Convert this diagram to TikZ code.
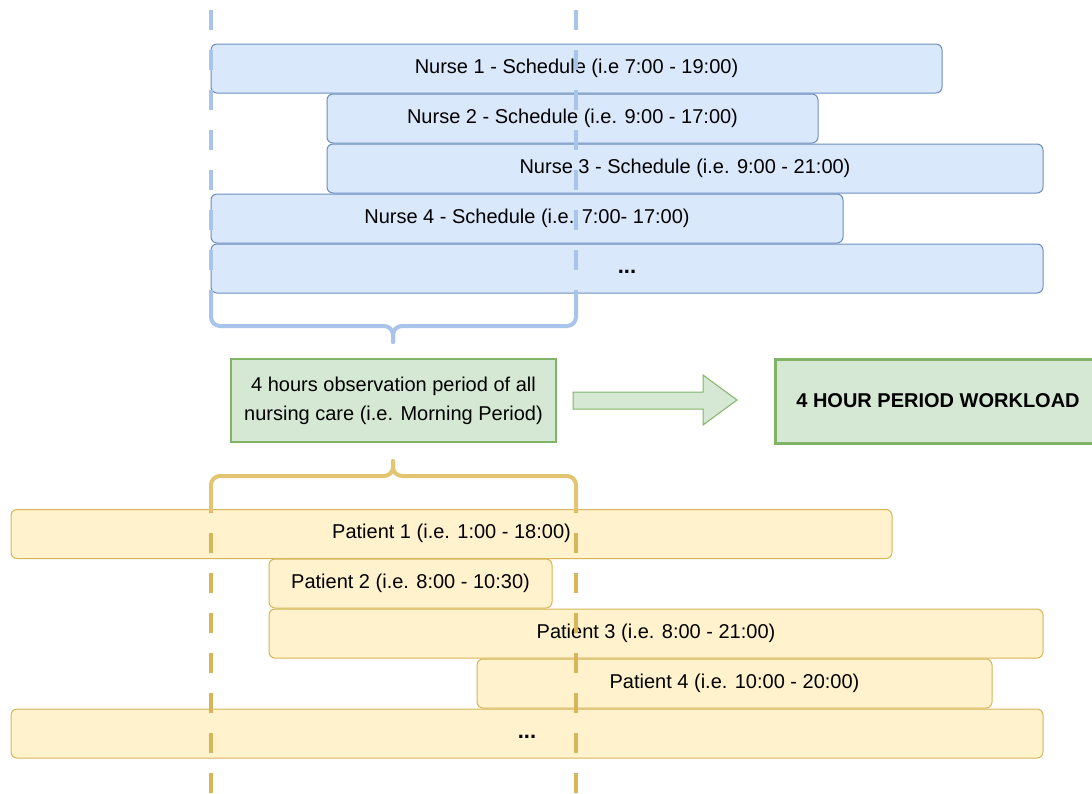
\documentclass[tikz,border=0pt]{standalone}
\usepackage{fontspec}
\setmainfont{Liberation Sans}
\definecolor{bfill}{HTML}{DAE8FC}
\definecolor{bdraw}{HTML}{6C8EBF}
\definecolor{yfill}{HTML}{FFF2CC}
\definecolor{ydraw}{HTML}{D6B656}
\definecolor{gfill}{HTML}{D5E8D4}
\definecolor{gdraw}{HTML}{82B366}
\definecolor{bdash}{HTML}{A9C4EB}
\definecolor{ydash}{HTML}{D6B656}
\definecolor{ybrace}{HTML}{E3C471}
\begin{document}
\begin{tikzpicture}[x=1pt,y=-1pt,
  bar/.style={rounded corners=6pt, line width=1pt, inner sep=0pt,
    font=\fontsize{20}{24}\selectfont},
  nursebar/.style={bar, draw=bdraw, fill=bfill},
  patbar/.style={bar, draw=ydraw, fill=yfill},
  vdash/.style={line width=4.5pt, dash pattern=on 20pt off 20pt},
  bracestyle/.style={line width=4pt, line cap=round, rounded corners=9pt},
  greenbox/.style={draw=gdraw, fill=gfill, inner sep=0pt,
    font=\fontsize{20}{29}\selectfont, align=center}]
\useasboundingbox[fill=white] (0,0) rectangle (1092,793);

% nurse schedules
\node[nursebar, minimum width=731pt, minimum height=49pt] (n1) at (576.5,68.5) {\strut Nurse 1 - Schedule (i.e 7:00 - 19:00)};
\node[nursebar, minimum width=491pt, minimum height=49pt] (n2) at (572.5,118.5) {\strut Nurse 2 - Schedule (i.e. 9:00 - 17:00)};
\node[nursebar, minimum width=716pt, minimum height=49pt] (n3) at (685,168.5) {\strut Nurse 3 - Schedule (i.e. 9:00 - 21:00)};
\node[nursebar, minimum width=632pt, minimum height=49pt] (n4) at (527,218.5) {\strut Nurse 4 - Schedule (i.e. 7:00- 17:00)};
\node[nursebar, minimum width=832pt, minimum height=49pt] (n5) at (627,268.5) {\strut\fontsize{22}{24}\selectfont\textbf{...}};

% patients
\node[patbar, minimum width=881pt, minimum height=49pt] (p1) at (451.5,534) {\strut Patient 1 (i.e. 1:00 - 18:00)};
\node[patbar, minimum width=283pt, minimum height=49pt] (p2) at (410.5,583.5) {\strut Patient 2 (i.e. 8:00 - 10:30)};
\node[patbar, minimum width=774pt, minimum height=49pt] (p3) at (656,633.5) {\strut Patient 3 (i.e. 8:00 - 21:00)};
\node[patbar, minimum width=515pt, minimum height=49pt] (p4) at (734.5,683.5) {\strut Patient 4 (i.e. 10:00 - 20:00)};
\node[patbar, minimum width=1032pt, minimum height=49pt] (p5) at (527,733.5) {\strut\fontsize{22}{24}\selectfont\textbf{...}};

% dashed period lines (on top)
\draw[vdash, bdash] (211,10) -- (211,310);
\draw[vdash, bdash] (576,10) -- (576,310);
\draw[vdash, ydash] (211,493) -- (211,793);
\draw[vdash, ydash] (576,493) -- (576,793);

% braces
\draw[bracestyle, bdash] (211,292) -- (211,326) -- (393,326) -- (393,342);
\draw[bracestyle, bdash] (576,292) -- (576,326) -- (393,326) -- (393,342);
\draw[bracestyle, ybrace] (211,510) -- (211,476) -- (393,476) -- (393,461);
\draw[bracestyle, ybrace] (576,510) -- (576,476) -- (393,476) -- (393,461);

% observation box
\node[greenbox, line width=2pt, minimum width=325pt, minimum height=83pt] (obs) at (393.5,400.5)
  {4 hours observation period of all\\nursing care (i.e. Morning Period)};

% workload box
\node[greenbox, line width=3pt, minimum width=326pt, minimum height=84pt] (wl) at (938,401)
  {\textbf{4 HOUR PERIOD WORKLOAD}};

% block arrow
\draw[draw=gdraw, fill=gfill, line width=1pt]
  (573,392) -- (703,392) -- (703,375) -- (737,400) -- (703,425) -- (703,409) -- (573,409) -- cycle;
\end{tikzpicture}
\end{document}
